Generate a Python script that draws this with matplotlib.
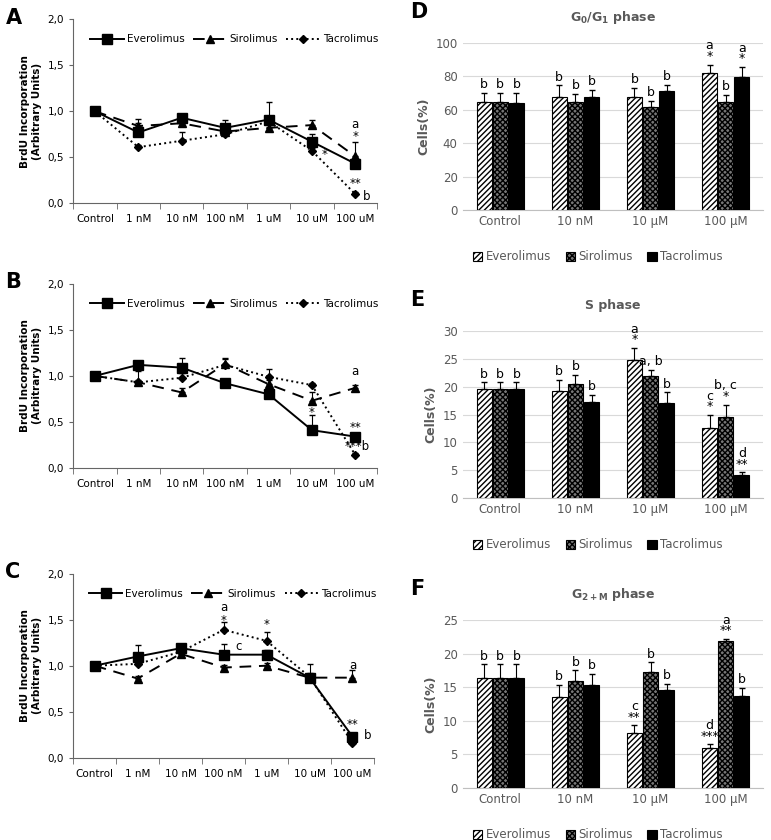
import matplotlib.pyplot as plt
from matplotlib.lines import Line2D
import numpy as np

doses = ['Control', '1 nM', '10 nM', '100 nM', '1 uM', '10 uM', '100 uM']
drugs = ['Everolimus', 'Sirolimus', 'Tacrolimus']

# BrdU incorporation, panels A-C
brdu_A = {'Everolimus': [1.0, 0.77, 0.93, 0.82, 0.91, 0.67, 0.43],
          'Sirolimus': [1.0, 0.84, 0.87, 0.78, 0.82, 0.85, 0.51],
          'Tacrolimus': [1.0, 0.61, 0.68, 0.75, 0.89, 0.57, 0.10]}
err_A = {'Everolimus': [0.02, 0.10, 0.03, 0.09, 0.19, 0.08, 0.05],
         'Sirolimus': [0.02, 0.08, 0.04, 0.03, 0.03, 0.06, 0.16],
         'Tacrolimus': [0.02, 0.02, 0.09, 0.02, 0.03, 0.03, 0.02]}
brdu_B = {'Everolimus': [1.0, 1.12, 1.09, 0.92, 0.80, 0.41, 0.34],
          'Sirolimus': [1.0, 0.93, 0.82, 1.13, 0.91, 0.73, 0.87],
          'Tacrolimus': [1.0, 0.93, 0.98, 1.12, 0.99, 0.90, 0.14]}
err_B = {'Everolimus': [0.02, 0.04, 0.10, 0.02, 0.02, 0.16, 0.04],
         'Sirolimus': [0.02, 0.12, 0.05, 0.05, 0.04, 0.09, 0.03],
         'Tacrolimus': [0.02, 0.02, 0.05, 0.07, 0.08, 0.02, 0.02]}
brdu_C = {'Everolimus': [1.0, 1.10, 1.19, 1.12, 1.12, 0.87, 0.23],
          'Sirolimus': [1.0, 0.86, 1.13, 0.98, 1.0, 0.87, 0.87],
          'Tacrolimus': [1.0, 1.02, 1.15, 1.39, 1.27, 0.88, 0.16]}
err_C = {'Everolimus': [0.03, 0.12, 0.03, 0.12, 0.05, 0.15, 0.03],
         'Sirolimus': [0.02, 0.03, 0.03, 0.03, 0.03, 0.03, 0.08],
         'Tacrolimus': [0.02, 0.03, 0.03, 0.08, 0.10, 0.04, 0.03]}
marks_A = [('a', 6, 0.86), ('*', 6, 0.73), ('*', 5.3, 0.53), ('**', 6, 0.22), ('b', 6.25, 0.07)]
marks_B = [('a', 6, 1.05), ('*', 5, 0.60), ('**', 6, 0.44), ('***b', 6.05, 0.23)]
marks_C = [('a', 3, 1.63), ('*', 3, 1.49), ('c', 3.35, 1.21), ('*', 4, 1.45),
           ('a', 6, 1.0), ('**', 6, 0.36), ('b', 6.35, 0.24)]

# cell cycle, panels D-F
groups = ['Control', '10 nM', '10 µM', '100 µM']
g01 = {'Everolimus': [64.5, 67.5, 67.5, 82], 'Sirolimus': [64.5, 64.5, 61.5, 64.5],
       'Tacrolimus': [64, 67.5, 71, 79.5]}
g01_err = {'Everolimus': [5.5, 7, 5.5, 5], 'Sirolimus': [5.5, 5, 4, 4.5],
           'Tacrolimus': [6, 4.5, 4, 6]}
g01_lab = {'Everolimus': ['b', 'b', 'b', 'a\n*'], 'Sirolimus': ['b', 'b', 'b', 'b'],
           'Tacrolimus': ['b', 'b', 'b', 'a\n*']}
s_ph = {'Everolimus': [19.5, 19.3, 24.7, 12.6], 'Sirolimus': [19.5, 20.4, 21.9, 14.5],
        'Tacrolimus': [19.5, 17.3, 17.1, 4.1]}
s_err = {'Everolimus': [1.3, 1.9, 2.3, 2.3], 'Sirolimus': [1.3, 1.7, 1.1, 2.3],
         'Tacrolimus': [1.3, 1.2, 1.9, 0.5]}
s_lab = {'Everolimus': ['b', 'b', 'a\n*', 'c\n*'], 'Sirolimus': ['b', 'b', 'a, b', 'b, c\n*'],
         'Tacrolimus': ['b', 'b', 'b', 'd\n**']}
g2m = {'Everolimus': [16.4, 13.6, 8.2, 5.9], 'Sirolimus': [16.4, 15.9, 17.2, 21.8],
       'Tacrolimus': [16.4, 15.3, 14.6, 13.7]}
g2m_err = {'Everolimus': [2.0, 1.7, 1.1, 0.6], 'Sirolimus': [2.0, 1.6, 1.5, 0.4],
           'Tacrolimus': [2.0, 1.7, 0.9, 1.2]}
g2m_lab = {'Everolimus': ['b', 'b', 'c\n**', 'd\n***'], 'Sirolimus': ['b', 'b', 'b', 'a\n**'],
           'Tacrolimus': ['b', 'b', 'b', 'b']}

fig = plt.figure(figsize=(7.71, 8.40), dpi=100)

line_style = {'Everolimus': ('-', 's', 7), 'Sirolimus': ((0, (6, 4)), '^', 6),
              'Tacrolimus': (':', 'D', 4.5)}


def line_panel(rect, data, err, marks, letter):
    ax = fig.add_axes(rect)
    x = np.arange(len(doses))
    handles = []
    for d in drugs:
        ls, mk, ms = line_style[d]
        e = np.array(err[d])
        ax.errorbar(x, data[d], yerr=[np.zeros_like(e), e], color='black', ls=ls,
                    marker=mk, ms=ms, lw=1.4, capsize=2.5, elinewidth=0.8)
        handles.append(Line2D([], [], color='black', ls=ls, marker=mk, ms=ms, lw=1.4, label=d))
    ax.set_xlim(-0.5, 6.5)
    ax.set_ylim(0, 2.0)
    ax.set_yticks([0, 0.5, 1.0, 1.5, 2.0])
    ax.set_yticklabels(['0,0', '0,5', '1,0', '1,5', '2,0'], fontsize=7.5)
    ax.set_xticks(x)
    ax.set_xticklabels(doses, fontsize=7.5)
    ax.set_xticks(np.arange(-0.5, 7, 1), minor=True)
    ax.tick_params(axis='x', which='major', length=0, pad=8)
    ax.tick_params(axis='x', which='minor', length=4, color='#666666')
    ax.tick_params(axis='y', length=3, color='#666666')
    for s in ['top', 'right']:
        ax.spines[s].set_visible(False)
    for s in ['left', 'bottom']:
        ax.spines[s].set_color('#666666')
    ax.set_ylabel('BrdU Incorporation\n(Arbitrary Units)', fontsize=7.5, fontweight='bold')
    ax.legend(handles=handles, loc='upper center', bbox_to_anchor=(0.53, 0.97), ncol=3,
              frameon=False, fontsize=7.5, handlelength=3.2, columnspacing=0.8,
              handletextpad=0.3)
    for t, xx, yy in marks:
        ax.text(xx, yy, t, ha='center', va='center', fontsize=8.5)
    fig.text(rect[0] - 0.088, rect[1] + rect[3] - 0.005, letter, fontsize=15, fontweight='bold')


line_panel([0.095, 0.758, 0.394, 0.219], brdu_A, err_A, marks_A, 'A')
line_panel([0.095, 0.443, 0.394, 0.219], brdu_B, err_B, marks_B, 'B')
line_panel([0.095, 0.098, 0.390, 0.219], brdu_C, err_C, marks_C, 'C')

bar_style = {'Everolimus': ('white', '//////'), 'Sirolimus': ('#777777', 'xxxxxx'),
             'Tacrolimus': ('black', None)}


def bar_panel(rect, data, err, labels, ymax, step, title, letter, legy):
    ax = fig.add_axes(rect)
    x = np.arange(len(groups))
    w = 0.2
    for i, d in enumerate(drugs):
        fc, h = bar_style[d]
        pos = x + (i - 1) * 0.215
        ax.bar(pos, data[d], w, color=fc, hatch=h, edgecolor='black', lw=0.8, label=d,
               yerr=[np.zeros(len(groups)), err[d]], capsize=2.5,
               error_kw={'elinewidth': 0.8, 'ecolor': 'black'}, zorder=3)
        for p, v, e, t in zip(pos, data[d], err[d], labels[d]):
            ax.text(p, v + e + ymax * 0.01, t, ha='center', va='bottom', fontsize=9,
                    linespacing=0.75)
    ax.set_xlim(-0.5, 3.5)
    ax.set_ylim(0, ymax)
    ax.set_yticks(np.arange(0, ymax + 0.1, step))
    ax.yaxis.grid(True, color='#d9d9d9', lw=0.8, zorder=0)
    ax.set_axisbelow(True)
    ax.set_xticks(x)
    ax.set_xticklabels(groups, fontsize=8.5, color='#595959')
    ax.tick_params(axis='both', length=0, labelcolor='#595959', labelsize=8.5)
    for s in ['top', 'right', 'left']:
        ax.spines[s].set_visible(False)
    ax.spines['bottom'].set_color('#bfbfbf')
    ax.set_ylabel('Cells(%)', fontsize=9, fontweight='bold', color='#595959')
    ax.set_title(title, fontsize=9, fontweight='bold', color='#595959', pad=16)
    ax.legend(loc='center', bbox_to_anchor=(0.45, legy), ncol=3, frameon=False,
              fontsize=8.5, handlelength=0.8, handleheight=0.8, columnspacing=1.2,
              handletextpad=0.3, labelcolor='#595959')
    fig.text(0.532, rect[1] + rect[3] + 0.03, letter, fontsize=15, fontweight='bold')


bar_panel([0.600, 0.750, 0.390, 0.199], g01, g01_err, g01_lab, 100, 20,
          r'$\mathbf{G_0/G_1}$ phase', 'D', -0.28)
bar_panel([0.600, 0.407, 0.390, 0.199], s_ph, s_err, s_lab, 30, 5,
          'S phase', 'E', -0.28)
bar_panel([0.600, 0.062, 0.390, 0.200], g2m, g2m_err, g2m_lab, 25, 5,
          r'$\mathbf{G_{2+M}}$ phase', 'F', -0.28)

fig.savefig('out.png', dpi=100)
